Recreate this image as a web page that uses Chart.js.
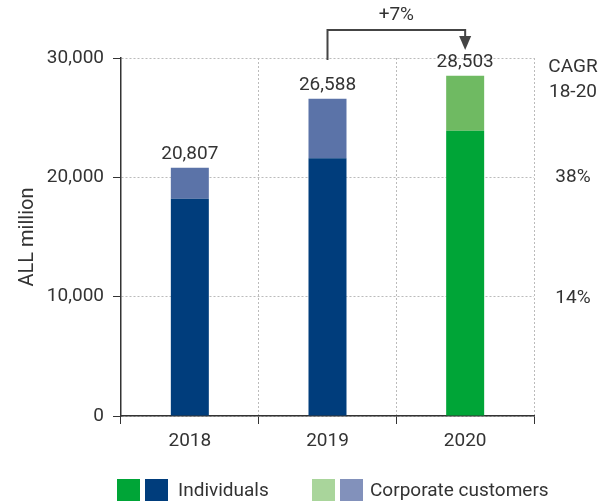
<!DOCTYPE html>
<html>
<head>
<meta charset="utf-8">
<script src="https://cdn.jsdelivr.net/npm/chart.js@4.4.0/dist/chart.umd.min.js"></script>
<style>
  html, body { margin: 0; padding: 0; background: #fff; }
  #wrap { width: 606px; height: 503px; }
</style>
</head>
<body>
<div id="wrap"><canvas id="grafico"></canvas></div>
<script>
const anos = ['2018', '2019', '2020'];
const individuos = [18200, 21600, 23900];
const corporativos = [2607, 4988, 4603];
const totais = ['20,807', '26,588', '28,503'];
const cagr = ['38%', '14%'];
const crescimento = '+7%';

const corIndividuos = ['#003d7c', '#003d7c', '#00a537'];
const corCorporativos = ['#5b73a8', '#5b73a8', '#6fba62'];
const texto = '#333333';
const fonte = 'Roboto, "Liberation Sans", sans-serif';
const tam = 19;

// rótulos, seta e anotações da direita
const extras = {
    id: 'extras',
    afterDraw(chart) {
        const ctx = chart.ctx;
        const x = chart.scales.x;
        const y = chart.scales.y;
        ctx.save();
        ctx.fillStyle = texto;
        ctx.font = tam + 'px ' + fonte;
        ctx.textAlign = 'center';
        ctx.textBaseline = 'bottom';
        anos.forEach((a, i) => {
            const topo = y.getPixelForValue(individuos[i] + corporativos[i]);
            ctx.fillText(totais[i], x.getPixelForValue(i), topo - 4);
        });

        // seta +7%
        const x1 = x.getPixelForValue(1);
        const x2 = x.getPixelForValue(2);
        const yTop = chart.chartArea.top;
        ctx.strokeStyle = '#444';
        ctx.lineWidth = 2;
        ctx.beginPath();
        ctx.moveTo(x1, yTop + 2);
        ctx.lineTo(x1, yTop - 28);
        ctx.lineTo(x2, yTop - 28);
        ctx.lineTo(x2, yTop - 20);
        ctx.stroke();
        ctx.fillStyle = '#444';
        ctx.beginPath();
        ctx.moveTo(x2 - 6, yTop - 22);
        ctx.lineTo(x2 + 6, yTop - 22);
        ctx.lineTo(x2, yTop - 8);
        ctx.closePath();
        ctx.fill();
        ctx.fillStyle = texto;
        ctx.textBaseline = 'middle';
        ctx.fillText(crescimento, (x1 + x2) / 2, yTop - 43);

        // CAGR
        const xr = chart.chartArea.right + 39;
        ctx.fillText('CAGR', xr, yTop + 9);
        ctx.fillText('18-20', xr, yTop + 34);
        ctx.fillText(cagr[0], xr, y.getPixelForValue(20000));
        ctx.fillText(cagr[1], xr, y.getPixelForValue(10000) + 2);

        // legenda
        const ly = 479;
        ctx.fillStyle = '#00a537'; ctx.fillRect(117, ly, 23, 22);
        ctx.fillStyle = '#003d7c'; ctx.fillRect(145, ly, 23, 22);
        ctx.fillStyle = '#a9d59b'; ctx.fillRect(312, ly, 23, 22);
        ctx.fillStyle = '#8291bb'; ctx.fillRect(340, ly, 23, 22);
        ctx.fillStyle = texto;
        ctx.textAlign = 'left';
        ctx.fillText('Individuals', 178, ly + 12);
        ctx.fillText('Corporate customers', 370, ly + 12);
        ctx.restore();
    }
};

const ctx = document.getElementById('grafico').getContext('2d');
const chart = new Chart(ctx, {
    type: 'bar',
    data: {
        labels: anos,
        datasets: [
            {
                label: 'Individuals',
                data: individuos,
                backgroundColor: corIndividuos
            },
            {
                label: 'Corporate customers',
                data: corporativos,
                backgroundColor: corCorporativos
            }
        ]
    },
    options: {
        responsive: true,
        maintainAspectRatio: false,
        animation: false,
        layout: { padding: { top: 58, right: 72, bottom: 45, left: 0 } },
        datasets: { bar: { categoryPercentage: 1, barPercentage: 0.276 } },
        plugins: {
            legend: { display: false },
            tooltip: { enabled: false }
        },
        scales: {
            x: {
                stacked: true,
                afterFit: (s) => { s.height = 42; },
                grid: {
                    color: '#bbbbbb',
                    lineWidth: 1,
                    tickColor: '#333',
                    tickLength: 8,
                    tickBorderDash: []
                },
                border: { color: '#333', width: 1.5, dash: [2, 2] },
                ticks: {
                    color: texto,
                    font: { family: fonte, size: tam },
                    padding: 6
                }
            },
            y: {
                stacked: true,
                min: 0,
                max: 30000,
                afterFit: (s) => { s.width = 121; },
                grid: {
                    color: '#bbbbbb',
                    lineWidth: 1,
                    tickColor: '#333',
                    tickLength: 8,
                    tickBorderDash: []
                },
                border: { color: '#333', width: 1.5, dash: [2, 2] },
                ticks: {
                    stepSize: 10000,
                    color: texto,
                    font: { family: fonte, size: tam },
                    padding: 9,
                    callback: (v) => v.toLocaleString('en-US')
                },
                title: {
                    display: true,
                    text: 'ALL million',
                    color: texto,
                    font: { family: fonte, size: 20 },
                    padding: { top: 16, bottom: 0 }
                }
            }
        }
    },
    plugins: [extras]
});
</script>
</body>
</html>
